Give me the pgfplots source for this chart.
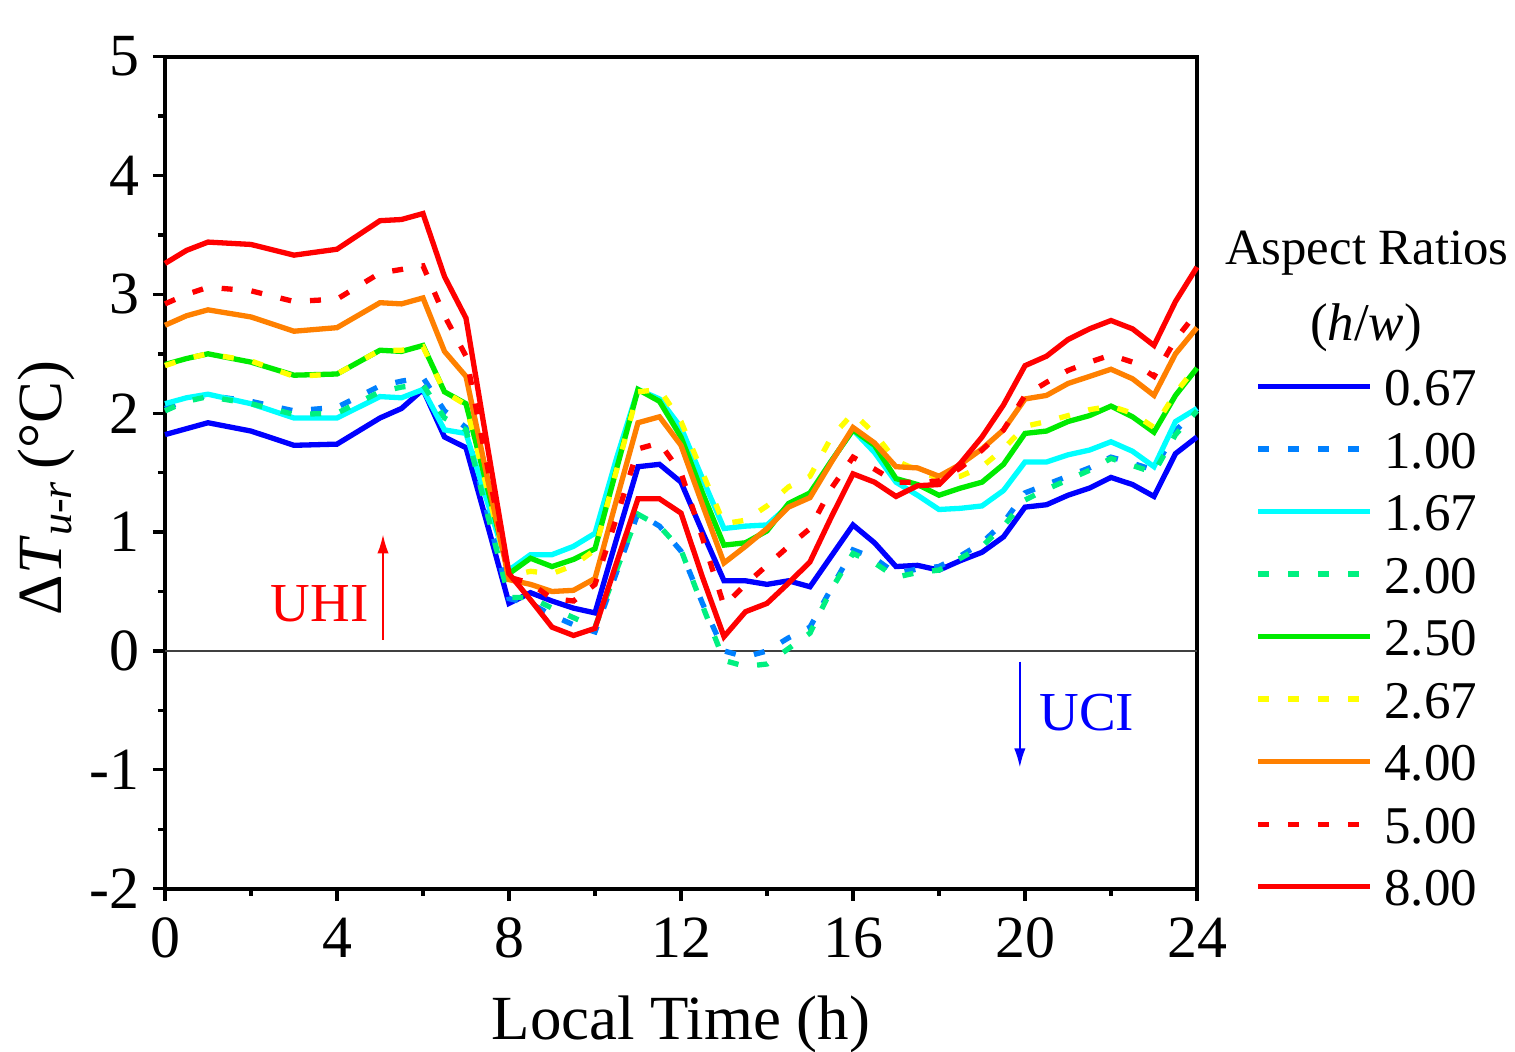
\documentclass[border=0pt]{standalone}
\usepackage{fontspec}
\setmainfont{Liberation Serif}
\usepackage{pgfplots}
\usepackage{pgfplotstable}
\usetikzlibrary{arrows.meta}
\pgfplotsset{compat=1.18}
\definecolor{cBlue}{RGB}{0,0,255}
\definecolor{cBlueD}{RGB}{0,128,255}
\definecolor{cCyan}{RGB}{0,255,255}
\definecolor{cGreenD}{RGB}{0,240,128}
\definecolor{cGreen}{RGB}{0,235,0}
\definecolor{cYellow}{RGB}{255,255,0}
\definecolor{cOrange}{RGB}{255,128,0}
\definecolor{cRed}{RGB}{255,0,0}

% columns: a=0.67 b=1.00 c=1.67 d=2.00 e=2.50 f=2.67 g=4.00 h=5.00 i=8.00
\pgfplotstableread{
t    a     b     c     d     e     f     g     h     i
0    1.82  2.04  2.08  2.02  2.41  2.40  2.74  2.92  3.26
0.5  1.87  2.11  2.13  2.10  2.46  2.46  2.82  3.00  3.37
1    1.92  2.15  2.16  2.14  2.50  2.50  2.87  3.06  3.44
2    1.85  2.10  2.08  2.08  2.43  2.44  2.81  3.03  3.42
3    1.73  2.02  1.96  1.99  2.32  2.31  2.69  2.94  3.33
4    1.74  2.05  1.96  2.00  2.33  2.33  2.72  2.96  3.38
5    1.96  2.23  2.14  2.18  2.53  2.53  2.93  3.18  3.62
5.5  2.04  2.27  2.13  2.22  2.52  2.53  2.92  3.21  3.63
6    2.20  2.30  2.20  2.24  2.57  2.56  2.97  3.24  3.68
6.5  1.80  2.02  1.86  1.96  2.18  2.18  2.52  2.82  3.15
7    1.71  1.88  1.83  1.86  2.08  2.07  2.31  2.48  2.80
7.5  1.06  1.15  1.25  1.15  1.37  1.35  1.45  1.55  1.72
8    0.40  0.44  0.68  0.45  0.65  0.63  0.60  0.62  0.65
8.5  0.49  0.40  0.81  0.45  0.78  0.67  0.56  0.57  0.43
9    0.42  0.30  0.81  0.36  0.71  0.65  0.50  0.44  0.20
9.5  0.36  0.22  0.88  0.28  0.77  0.72  0.51  0.42  0.13
10   0.32  0.16  0.99  0.20  0.86  0.85  0.61  0.56  0.19
10.5 0.94  0.66  1.62  0.68  1.53  1.52  1.27  1.12  0.74
11   1.55  1.16  2.20  1.15  2.20  2.18  1.92  1.70  1.28
11.5 1.57  1.05  2.12  1.05  2.10  2.20  1.97  1.75  1.28
12   1.42  0.84  1.88  0.85  1.80  1.93  1.73  1.50  1.16
12.5 1.00  0.40  1.45  0.38  1.33  1.50  1.23  0.95  0.62
13   0.59  0.00  1.03  -0.08 0.89  1.07  0.74  0.38  0.12
13.5 0.59  -0.05 1.05  -0.13 0.91  1.10  0.88  0.56  0.33
14   0.56  0.00  1.06  -0.11 1.01  1.22  1.03  0.72  0.40
14.5 0.59  0.11  1.22  0.02  1.24  1.38  1.21  0.88  0.57
15   0.54  0.20  1.31  0.15  1.33  1.47  1.29  1.03  0.75
15.5 0.80  0.53  1.60  0.52  1.60  1.80  1.59  1.37  1.13
16   1.06  0.85  1.86  0.82  1.86  2.00  1.88  1.63  1.49
16.5 0.91  0.78  1.67  0.74  1.73  1.83  1.75  1.53  1.42
17   0.71  0.65  1.42  0.62  1.45  1.60  1.55  1.42  1.30
17.5 0.72  0.69  1.31  0.66  1.40  1.52  1.54  1.42  1.39
18   0.68  0.71  1.19  0.68  1.31  1.45  1.47  1.43  1.40
18.5 0.76  0.80  1.20  0.78  1.37  1.47  1.57  1.54  1.58
19   0.83  0.91  1.22  0.88  1.42  1.55  1.70  1.69  1.80
19.5 0.96  1.08  1.35  1.05  1.57  1.70  1.86  1.86  2.07
20   1.21  1.33  1.59  1.27  1.83  1.89  2.12  2.15  2.40
20.5 1.23  1.40  1.59  1.36  1.85  1.93  2.15  2.26  2.48
21   1.31  1.47  1.65  1.44  1.93  1.98  2.25  2.36  2.62
21.5 1.37  1.54  1.69  1.52  1.98  2.03  2.31  2.43  2.71
22   1.46  1.63  1.76  1.62  2.06  2.06  2.37  2.49  2.78
22.5 1.40  1.58  1.68  1.56  1.97  2.00  2.29  2.43  2.71
23   1.30  1.52  1.55  1.50  1.84  1.88  2.15  2.31  2.57
23.5 1.66  1.85  1.93  1.82  2.15  2.17  2.50  2.62  2.94
24   1.80  2.04  2.04  2.02  2.38  2.40  2.72  2.85  3.23
}\data

\begin{document}
\begin{tikzpicture}
\begin{axis}[
  scale only axis,
  width=272.4pt, height=219.6pt,
  xmin=0, xmax=24, ymin=-2, ymax=5,
  xtick={0,4,...,24}, minor xtick={2,6,...,22},
  ytick={-2,...,5}, minor ytick={-1.5,-0.5,...,4.5},
  tick pos=left, tick align=outside,
  major tick length=3.2pt, minor tick length=1.9pt,
  every tick/.style={line width=0.9pt, black},
  axis line style={line width=1pt},
  /pgf/number format/assume math mode=true,
  ticklabel style={font=\fontsize{15.8}{18}\selectfont},
  xticklabel style={yshift=-1pt},
  xlabel={Local Time (h)},
  ylabel={Δ\textit{T}\textsubscript{\textit{u-r}}\,(°C)},
  label style={font=\fontsize{16.6}{19}\selectfont},
  xlabel style={yshift=-3pt},
  ylabel style={yshift=-3pt, xshift=-4pt},
  clip=false,
  legend image code/.code={\draw[#1] (0pt,0pt) -- (29.5pt,0pt); \path (32.5pt,0pt);},
  legend style={draw=none, fill=none, at={(axis cs:25.35,2.39)}, anchor=north west,
    inner sep=0pt, row sep=6.5pt, font=\fontsize{14}{16}\selectfont,
    nodes={inner sep=0pt, text height=10pt, text depth=0pt}},
  legend cell align=left,
  every axis plot/.append style={line width=1.4pt},
  dotstyle/.style={dash pattern=on 2.9pt off 5pt},
]
\addplot[forget plot, line width=0.4pt, black!75] coordinates {(0,0) (24,0)};
\addplot[cBlue] table[x=t,y=a]{\data};
\addplot[cBlueD, dotstyle] table[x=t,y=b]{\data};
\addplot[cCyan] table[x=t,y=c]{\data};
\addplot[cGreenD, dotstyle] table[x=t,y=d]{\data};
\addplot[cGreen] table[x=t,y=e]{\data};
\addplot[cYellow, dotstyle] table[x=t,y=f]{\data};
\addplot[cOrange] table[x=t,y=g]{\data};
\addplot[cRed, dotstyle] table[x=t,y=h]{\data};
\addplot[cRed] table[x=t,y=i]{\data};
\legend{0.67,1.00,1.67,2.00,2.50,2.67,4.00,5.00,8.00}

\node[font=\fontsize{13.4}{16}\selectfont] at (axis cs:27.95,3.35) {Aspect Ratios};
\node[font=\fontsize{14}{16}\selectfont] at (axis cs:27.93,2.72) {(\textit{h}/\textit{w})};

\node[red, font=\fontsize{14.5}{17}\selectfont] at (axis cs:3.6,0.40) {UHI};
\draw[red, line width=0.5pt, -{Latex[length=5pt,width=3pt]}] (axis cs:5.07,0.09) -- (axis cs:5.07,0.98);
\node[blue, font=\fontsize{14.5}{17}\selectfont] at (axis cs:21.44,-0.52) {UCI};
\draw[blue, line width=0.5pt, -{Latex[length=5pt,width=3pt]}] (axis cs:19.88,-0.09) -- (axis cs:19.88,-0.98);

\coordinate (bbll) at (axis cs:-3.837,-3.374);
\coordinate (bbur) at (axis cs:31.395,5.477);
\end{axis}
\pgfresetboundingbox
\path[use as bounding box] (bbll) rectangle (bbur);
\end{tikzpicture}
\end{document}
